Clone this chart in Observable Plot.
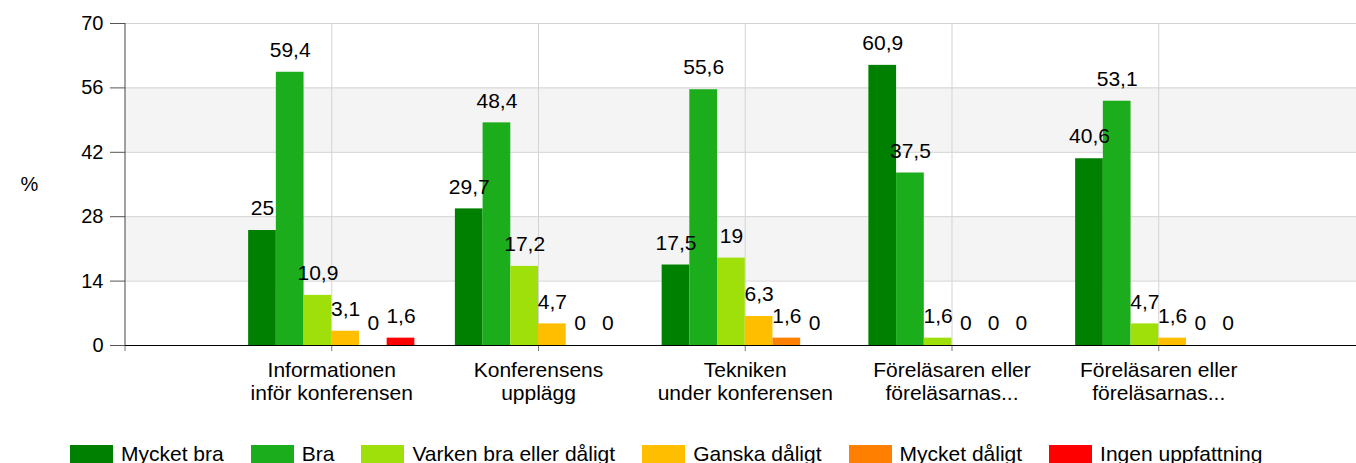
<!DOCTYPE html>
<html>
<head>
<meta charset="utf-8">
<script src="https://cdn.jsdelivr.net/npm/d3@7"></script>
<script src="https://cdn.jsdelivr.net/npm/@observablehq/plot@0.6"></script>
<style>
  html, body { margin: 0; padding: 0; background: #fff; overflow: hidden; }
  body { font-family: "Liberation Sans", Arial, sans-serif; }
  #legend { display: flex; align-items: center; padding-left: 70px; margin-top: 15px; height: 18px; }
  .item { display: flex; align-items: center; margin-right: 27px; font-size: 21px; line-height: 18px; color: #000; white-space: nowrap; }
  .sw { width: 43px; height: 18px; margin-right: 8px; }
</style>
</head>
<body>
<div id="chart"></div>
<div id="legend"></div>
<script>
const categories = [
  "Informationen\ninför konferensen",
  "Konferensens\nupplägg",
  "Tekniken\nunder konferensen",
  "Föreläsaren eller\nföreläsarnas...",
  "Föreläsaren eller\nföreläsarnas..."
];
const series = ["Mycket bra", "Bra", "Varken bra eller dåligt", "Ganska dåligt", "Mycket dåligt", "Ingen uppfattning"];
const mycketBra = [25, 29.7, 17.5, 60.9, 40.6];
const bra = [59.4, 48.4, 55.6, 37.5, 53.1];
const varken = [10.9, 17.2, 19, 1.6, 4.7];
const ganskaDaligt = [3.1, 4.7, 6.3, 0, 1.6];
const mycketDaligt = [0, 0, 1.6, 0, 0];
const ingenUppfattning = [1.6, 0, 0, 0, 0];
const yTicks = [0, 14, 28, 42, 56, 70];
const colors = ["#008000", "#1bad1b", "#a0e00a", "#ffbf00", "#ff8000", "#ff0000"];

const values = [mycketBra, bra, varken, ganskaDaligt, mycketDaligt, ingenUppfattning];
const rows = categories.flatMap((c, ci) => series.map((s, si) => ({cat: ci + 1, s, si, v: values[si][ci]})));
const cats = categories.map((c, i) => ({label: c, pos: i + 1}));
const bands = yTicks.slice(0, -1).map((t, i) => [t, yTicks[i + 1]]).filter((b, i) => i % 2 === 1);
const w = 0.134;
const fmt = v => String(v).replace(".", ",");
const font = "'Liberation Sans', Arial, sans-serif";

const W = 1356, H = 430, mt = 23, mb = 85, ml = 125;

const chart = Plot.plot({
  width: W, height: H,
  marginTop: mt, marginBottom: mb, marginLeft: ml, marginRight: 0,
  style: {fontFamily: font, fontSize: "20px", background: "#fff", color: "#000"},
  x: {type: "linear", domain: [0, 6], range: [124.5, 1365], axis: null},
  y: {type: "linear", domain: [0, 70], axis: null},
  color: {domain: series, range: colors},
  marks: [
    Plot.rect(bands, {y1: d => d[0], y2: d => d[1], fill: "#f4f4f4"}),
    Plot.gridY(yTicks, {stroke: "#d3d3d3", strokeOpacity: 1}),
    Plot.gridX(cats.map(d => d.pos), {stroke: "#d3d3d3", strokeOpacity: 1}),
    Plot.axisY(yTicks, {tickSize: 15, tickPadding: 7, label: null, stroke: "#555", fill: "#000", fontSize: 20}),
    Plot.axisX([0].concat(cats.map(d => d.pos)), {tickSize: 6, tickFormat: () => "", label: null, stroke: "#777"}),
    Plot.ruleX([0], {stroke: "#444"}),
    Plot.rectY(rows, {x1: d => d.cat + (d.si - 3) * w, x2: d => d.cat + (d.si - 2) * w, y: "v", fill: "s"}),
    Plot.ruleY([0], {stroke: "#000"}),
    Plot.text(rows, {x: d => d.cat + (d.si - 2.5) * w, y: "v", text: d => fmt(d.v), dy: -22, fontSize: 21, fill: "#000"}),
    Plot.text(cats, {x: "pos", y: 0, text: "label", dy: 36, fontSize: 21, lineHeight: 1.1, fill: "#000"}),
    Plot.text(["%"], {frameAnchor: "left", dx: -105, fontSize: 20, fill: "#000"})
  ]
});
document.getElementById("chart").appendChild(chart);

const legend = document.getElementById("legend");
series.forEach((s, i) => {
  const item = document.createElement("div");
  item.className = "item";
  const sw = document.createElement("span");
  sw.className = "sw";
  sw.style.background = colors[i];
  item.appendChild(sw);
  item.appendChild(document.createTextNode(s));
  legend.appendChild(item);
});
</script>
</body>
</html>
